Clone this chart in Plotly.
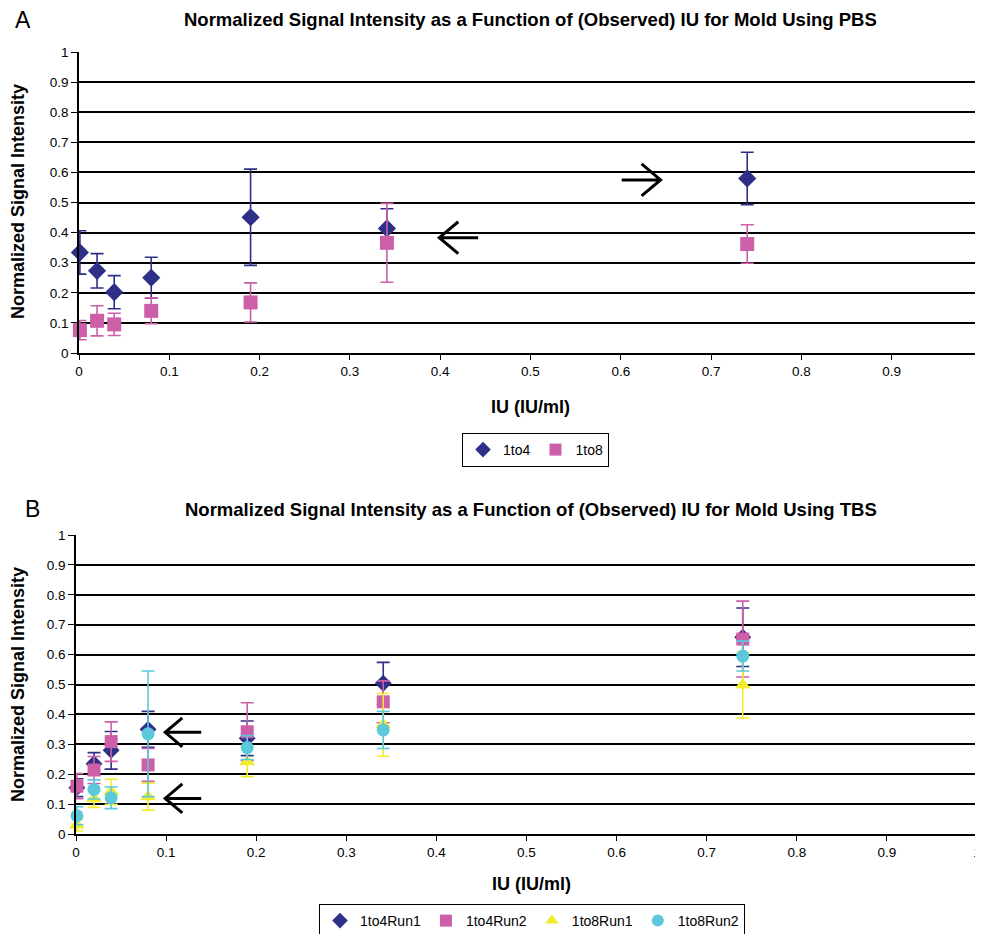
import plotly.graph_objects as go

# ---------------- data ----------------
IU = [0.001, 0.02, 0.039, 0.08, 0.19, 0.341, 0.74]

# Panel A (PBS)
a_1to4 = [0.334, 0.273, 0.202, 0.250, 0.451, 0.414, 0.580]
a_1to4_err = [0.072, 0.057, 0.055, 0.068, 0.160, 0.065, 0.087]
a_1to8 = [0.076, 0.107, 0.095, 0.140, 0.168, 0.366, 0.362]
a_1to8_err = [0.032, 0.050, 0.037, 0.043, 0.065, 0.131, 0.064]

# Panel B (TBS)
b_1to4r1 = [0.155, 0.235, 0.280, 0.350, 0.320, 0.504, 0.658]
b_1to4r1_err = [0.030, 0.037, 0.063, 0.060, 0.058, 0.070, 0.098]
b_1to4r2 = [0.160, 0.214, 0.309, 0.231, 0.342, 0.442, 0.652]
b_1to4r2_err = [0.042, 0.045, 0.066, 0.055, 0.097, 0.070, 0.127]
b_1to8r1 = [0.030, 0.119, 0.141, 0.125, 0.242, 0.365, 0.498]
b_1to8r1_err = [0.020, 0.030, 0.042, 0.045, 0.050, 0.105, 0.110]
b_1to8r2 = [0.061, 0.149, 0.121, 0.335, 0.289, 0.348, 0.595]
b_1to8r2_err = [0.030, 0.032, 0.036, 0.210, 0.040, 0.062, 0.050]

# arrows: (tip_x, tail_x, y)
arrows_a = [(0.399, 0.442, 0.383), (0.644, 0.601, 0.575)]
arrows_b = [(0.099, 0.139, 0.340), (0.099, 0.139, 0.119)]

NAVY = "#2E3087"
PINK = "#CC5FA8"
YELLOW = "#F2EC2E"
CYAN = "#5CC8DC"
FONT = "Liberation Sans, Arial, sans-serif"

W, H = 983, 934
OFF = 8  # page body margin


def px(x):
    return (x - OFF) / W


def py(y):
    return 1 - (y - OFF) / H


fig = go.Figure()


def add(x, y, err, name, color, symbol, size, xa, ya, legend):
    fig.add_trace(go.Scatter(
        x=x, y=y, mode="markers", name=name, cliponaxis=False,
        marker=dict(color=color, symbol=symbol, size=size, line=dict(width=0)),
        error_y=dict(type="data", array=err, symmetric=True, color=color,
                     thickness=1.6, width=6.5),
        xaxis=xa, yaxis=ya, legend=legend,
    ))


add(IU, a_1to4, a_1to4_err, "1to4", NAVY, "diamond", 14, "x", "y", "legend")
add(IU, a_1to8, a_1to8_err, "1to8", PINK, "square", 14, "x", "y", "legend")

add(IU, b_1to4r1, b_1to4r1_err, "1to4Run1", NAVY, "diamond", 13, "x2", "y2", "legend2")
add(IU, b_1to4r2, b_1to4r2_err, "1to4Run2", PINK, "square", 13, "x2", "y2", "legend2")
add(IU, b_1to8r1, b_1to8r1_err, "1to8Run1", YELLOW, "triangle-up", 14, "x2", "y2", "legend2")
add(IU, b_1to8r2, b_1to8r2_err, "1to8Run2", CYAN, "circle", 13, "x2", "y2", "legend2")

tick_vals = [i / 10 for i in range(11)]
tick_text = ["0", "0.1", "0.2", "0.3", "0.4", "0.5", "0.6", "0.7", "0.8", "0.9", "1"]

xcommon = dict(range=[0, 1], tickvals=tick_vals, ticktext=tick_text, showgrid=False,
               zeroline=False, showline=True, linecolor="black", linewidth=1.5,
               ticks="outside", ticklen=5, tickcolor="black", tickwidth=1.2,
               tickfont=dict(family=FONT, size=13.5, color="black"), fixedrange=True,
               automargin=False)
ycommon = dict(range=[0, 1], tickvals=tick_vals, ticktext=tick_text, showgrid=True,
               gridcolor="black", gridwidth=1.5, zeroline=False, showline=True,
               linecolor="black", linewidth=1.5, ticks="outside", ticklen=6,
               tickcolor="black", tickwidth=1.2,
               tickfont=dict(family=FONT, size=13.5, color="black"), fixedrange=True,
               automargin=False)

# chevron arrows drawn as path shapes (head size given in data units per panel)
shapes = []


def arrow(tip, tail, yv, xr, yr, hx, hy):
    d = 1 if tail > tip else -1
    path = (f"M {tail},{yv} L {tip},{yv} "
            f"M {tip + d * hx},{yv + hy} L {tip},{yv} L {tip + d * hx},{yv - hy}")
    shapes.append(dict(type="path", path=path, xref=xr, yref=yr,
                       line=dict(color="black", width=3)))


for tip, tail, yv in arrows_a:
    arrow(tip, tail, yv, "x", "y", 0.021, 0.053)
for tip, tail, yv in arrows_b:
    arrow(tip, tail, yv, "x2", "y2", 0.019, 0.0485)

annotations = []


def txt(text, x, y, size, bold=False, angle=0):
    annotations.append(dict(text=f"<b>{text}</b>" if bold else text, x=px(x), y=py(y),
                            xref="paper", yref="paper", showarrow=False, textangle=angle,
                            xanchor="center", yanchor="middle",
                            font=dict(family=FONT, size=size, color="black")))


txt("A", 23, 20, 23)
txt("B", 32, 509, 23)
txt("Normalized Signal Intensity as a Function of (Observed) IU for Mold Using PBS", 530, 20, 18.5, True)
txt("Normalized Signal Intensity as a Function of (Observed) IU for Mold Using TBS", 531, 509, 18.5, True)
txt("Normalized Signal Intensity", 18, 202, 18, True, -90)
txt("Normalized Signal Intensity", 18, 685, 18, True, -90)
txt("IU (IU/ml)", 530, 407, 18, True)
txt("IU (IU/ml)", 531, 884, 18, True)

legend_common = dict(orientation="h", bordercolor="black", borderwidth=1,
                     bgcolor="white", font=dict(family=FONT, size=14, color="black"),
                     xanchor="left", yanchor="top", itemsizing="constant")

fig.update_layout(
    width=W, height=H, margin=dict(l=0, r=0, t=0, b=0, pad=0, autoexpand=False),
    paper_bgcolor="white", plot_bgcolor="white",
    xaxis=dict(domain=[px(79), px(982)], anchor="y", **xcommon),
    yaxis=dict(domain=[py(353), py(52)], anchor="x", **ycommon),
    xaxis2=dict(domain=[px(76), px(977)], anchor="y2", **xcommon),
    yaxis2=dict(domain=[py(834), py(535)], anchor="x2", **ycommon),
    legend=dict(x=px(462), y=py(433), **legend_common),
    legend2=dict(x=px(319), y=py(904), **legend_common),
    annotations=annotations,
    shapes=shapes,
    showlegend=True,
)

fig.write_html("out.html")
